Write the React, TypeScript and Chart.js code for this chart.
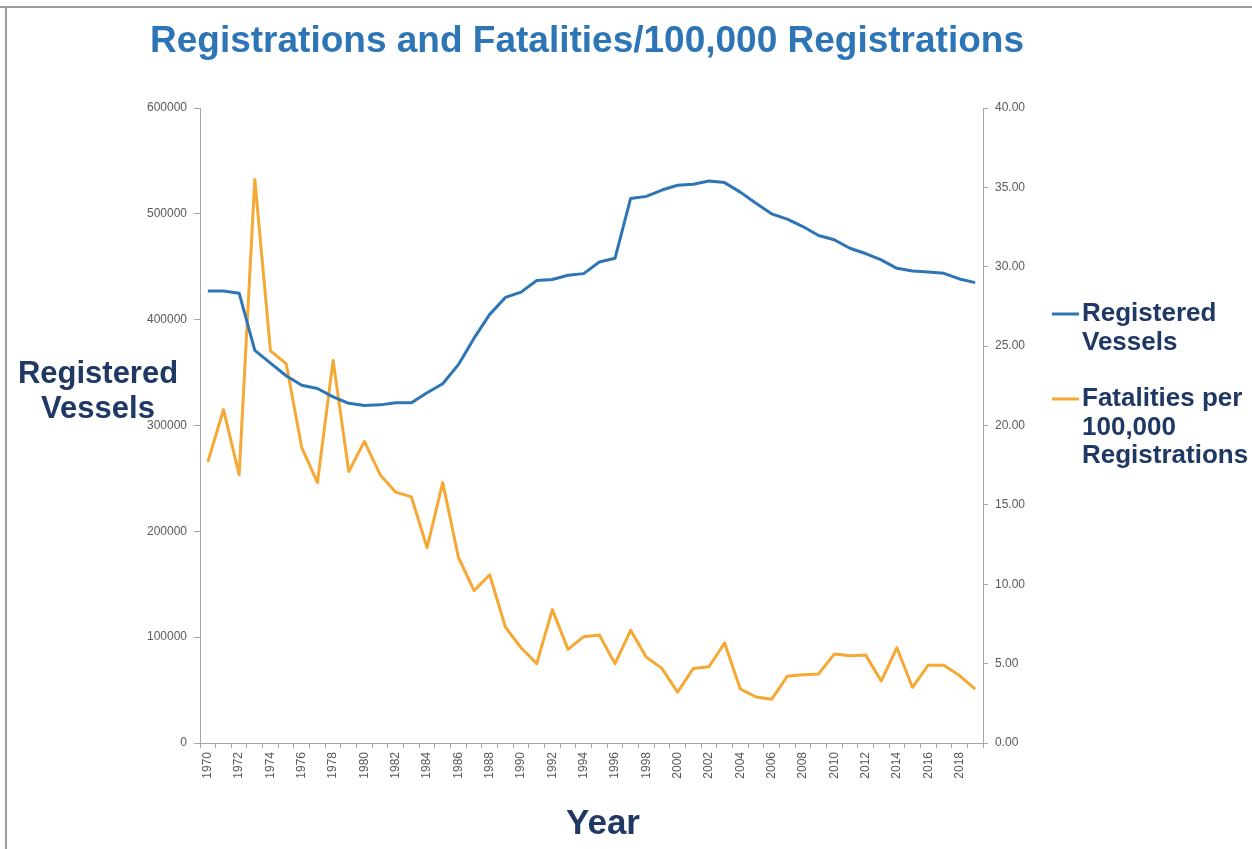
import React, { useEffect, useRef } from "react";
import { Chart, registerables } from "chart.js";

Chart.register(...registerables);

const years = [
  "1970", "1971", "1972", "1973", "1974", "1975", "1976", "1977", "1978", "1979",
  "1980", "1981", "1982", "1983", "1984", "1985", "1986", "1987", "1988", "1989",
  "1990", "1991", "1992", "1993", "1994", "1995", "1996", "1997", "1998", "1999",
  "2000", "2001", "2002", "2003", "2004", "2005", "2006", "2007", "2008", "2009",
  "2010", "2011", "2012", "2013", "2014", "2015", "2016", "2017", "2018", "2019",
];

const registeredVessels = [
  427000, 427000, 425000, 371000, 359000, 347000, 338000, 335000, 327000, 321000,
  319000, 319500, 321500, 321500, 331000, 339500, 357500, 382500, 405000, 421000,
  426000, 437000, 438000, 442000, 443500, 454500, 458000, 514500, 516500, 522500,
  527000, 528000, 531000, 529500, 520500, 510000, 500000, 495000, 488000, 479500,
  475500, 467500, 462500, 456500, 448500, 446000, 445000, 443800, 438500, 435000,
];

const fatalitiesPer100k = [
  17.7, 21.0, 16.9, 35.5, 24.7, 23.9, 18.6, 16.4, 24.1, 17.1,
  19.0, 16.9, 15.8, 15.5, 12.3, 16.4, 11.7, 9.6, 10.6, 7.3,
  6.0, 5.0, 8.4, 5.9, 6.7, 6.8, 5.0, 7.1, 5.4, 4.7,
  3.2, 4.7, 4.8, 6.3, 3.4, 2.9, 2.75, 4.2, 4.3, 4.35,
  5.6, 5.5, 5.55, 3.9, 6.0, 3.5, 4.9, 4.9, 4.25, 3.4,
];

const leftAxisMax = 600000;
const leftAxisStep = 100000;
const rightAxisMax = 40;
const rightAxisStep = 5;

const titleText = "Registrations and Fatalities/100,000 Registrations";
const yAxisLabelLines = ["Registered", "Vessels"];
const xAxisLabel = "Year";
const seriesNames = ["Registered Vessels", "Fatalities per 100,000 Registrations"];
const legendLines = [
  ["Registered", "Vessels"],
  ["Fatalities per", "100,000", "Registrations"],
];

const BLUE = "#2E75B6";
const ORANGE = "#F5A833";
const NAVY = "#1F3864";
const AXIS_GREY = "#A6A6A6";
const TICK_TEXT = "#595959";
const FONT = "'Liberation Sans', Arial, sans-serif";

const textPlugin = {
  id: "customText",
  beforeDraw(chart: any) {
    const ctx = chart.ctx;
    ctx.save();
    ctx.fillStyle = "#ffffff";
    ctx.fillRect(0, 0, chart.width, chart.height);
    ctx.strokeStyle = "#9C9C9C";
    ctx.lineWidth = 2;
    ctx.beginPath();
    ctx.moveTo(0, 7);
    ctx.lineTo(chart.width, 7);
    ctx.moveTo(6, 7);
    ctx.lineTo(6, chart.height);
    ctx.stroke();
    ctx.restore();
  },
  afterDraw(chart: any) {
    const ctx = chart.ctx;
    ctx.save();
    // Title
    ctx.fillStyle = BLUE;
    ctx.font = `bold 37px ${FONT}`;
    ctx.textAlign = "center";
    ctx.textBaseline = "middle";
    ctx.fillText(titleText, 587, 42);

    // Left axis label
    ctx.fillStyle = NAVY;
    ctx.font = `bold 31px ${FONT}`;
    yAxisLabelLines.forEach((line, i) => {
      ctx.fillText(line, 98, 374 + i * 35);
    });

    // X axis label
    ctx.font = `bold 35px ${FONT}`;
    ctx.fillText(xAxisLabel, 603, 824);

    // Legend
    const legendTop = [314, 399];
    chart.data.datasets.forEach((ds: any, i: number) => {
      const y0 = legendTop[i];
      ctx.strokeStyle = ds.borderColor;
      ctx.lineWidth = 3;
      ctx.beginPath();
      ctx.moveTo(1052, y0);
      ctx.lineTo(1079, y0);
      ctx.stroke();
      ctx.fillStyle = NAVY;
      ctx.font = `bold 26px ${FONT}`;
      ctx.textAlign = "left";
      legendLines[i].forEach((line, j) => {
        ctx.fillText(line, 1082, y0 + j * 28.5);
      });
    });
    ctx.restore();
  },
};

export default function App() {
  const canvasRef = useRef<HTMLCanvasElement | null>(null);

  useEffect(() => {
    if (!canvasRef.current) return;
    const chart = new Chart(canvasRef.current, {
      type: "line",
      data: {
        labels: years,
        datasets: [
          {
            label: seriesNames[0],
            data: registeredVessels,
            borderColor: BLUE,
            backgroundColor: BLUE,
            borderWidth: 3,
            pointRadius: 0,
            tension: 0,
            borderJoinStyle: "round",
            yAxisID: "y",
          },
          {
            label: seriesNames[1],
            data: fatalitiesPer100k,
            borderColor: ORANGE,
            backgroundColor: ORANGE,
            borderWidth: 3,
            pointRadius: 0,
            tension: 0,
            borderJoinStyle: "round",
            yAxisID: "y1",
          },
        ],
      },
      options: {
        responsive: false,
        animation: false,
        devicePixelRatio: 1,
        layout: { padding: { left: 130, right: 199, top: 108, bottom: 61 } },
        plugins: {
          legend: { display: false },
          title: { display: false },
          tooltip: { enabled: false },
        },
        scales: {
          x: {
            type: "category",
            offset: true,
            grid: {
              offset: true,
              drawOnChartArea: false,
              drawTicks: true,
              tickLength: 5,
              color: AXIS_GREY,
            },
            border: { color: AXIS_GREY, width: 1 },
            ticks: {
              autoSkip: false,
              maxRotation: 90,
              minRotation: 90,
              padding: 4,
              color: TICK_TEXT,
              font: { size: 12, family: FONT },
              callback: (_v: any, i: number) => (i % 2 === 0 ? years[i] : ""),
            },
            afterFit: (s: any) => {
              s.height = 45;
            },
          },
          y: {
            position: "left",
            min: 0,
            max: leftAxisMax,
            grid: { drawOnChartArea: false, tickLength: 6, color: AXIS_GREY },
            border: { color: AXIS_GREY, width: 1 },
            ticks: {
              stepSize: leftAxisStep,
              padding: 7,
              color: TICK_TEXT,
              font: { size: 12, family: FONT },
              callback: (v: any) => String(v),
            },
            afterFit: (s: any) => {
              s.width = 70;
            },
          },
          y1: {
            position: "right",
            min: 0,
            max: rightAxisMax,
            grid: { drawOnChartArea: false, tickLength: 5, color: AXIS_GREY },
            border: { color: AXIS_GREY, width: 1 },
            ticks: {
              stepSize: rightAxisStep,
              padding: 7,
              color: TICK_TEXT,
              font: { size: 12, family: FONT },
              callback: (v: any) => Number(v).toFixed(2),
            },
            afterFit: (s: any) => {
              s.width = 70;
            },
          },
        },
      },
      plugins: [textPlugin],
    } as any);
    return () => chart.destroy();
  }, []);

  return (
    <div style={{ position: "fixed", left: 0, top: 0, width: 1252, height: 849, background: "#fff" }}>
      <canvas ref={canvasRef} width={1252} height={849} style={{ display: "block", width: 1252, height: 849 }} />
    </div>
  );
}
